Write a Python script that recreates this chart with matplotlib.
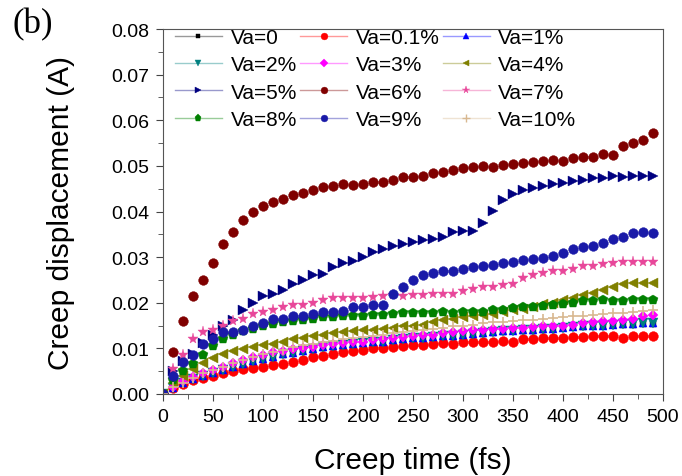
import matplotlib.pyplot as plt
from matplotlib.lines import Line2D
from matplotlib.ticker import MultipleLocator
from matplotlib.colors import to_rgb

plt.rcParams['font.family'] = ['Liberation Sans', 'DejaVu Sans']

# creep time (fs), one point every 10 fs
time = list(range(0, 500, 10))

# creep displacement (A) for each vacancy concentration
va_0 = [0, 0.0012, 0.0024, 0.0032, 0.0039, 0.0046, 0.0052, 0.0059, 0.0064, 0.0071,
        0.0076, 0.0081, 0.0086, 0.0089, 0.0094, 0.0097, 0.0101, 0.0104, 0.0107, 0.0109,
        0.0111, 0.0112, 0.0114, 0.0117, 0.0119, 0.0121, 0.0122, 0.0124, 0.0126, 0.0127,
        0.0129, 0.0131, 0.0132, 0.0134, 0.0136, 0.0137, 0.0139, 0.0139, 0.0141, 0.0142,
        0.0144, 0.0146, 0.0147, 0.0149, 0.0149, 0.0151, 0.0152, 0.0152, 0.0154, 0.0154]
va_01 = [0, 0.0012, 0.0022, 0.003, 0.0035, 0.004, 0.0045, 0.005, 0.0055, 0.0057,
         0.006, 0.0063, 0.0065, 0.007, 0.0075, 0.008, 0.0083, 0.0088, 0.0092, 0.0095,
         0.0097, 0.01, 0.01, 0.0102, 0.0105, 0.0107, 0.0108, 0.011, 0.0112, 0.011,
         0.0113, 0.0115, 0.0115, 0.0115, 0.0117, 0.0115, 0.012, 0.012, 0.0122, 0.0122,
         0.0122, 0.0125, 0.0125, 0.0127, 0.0127, 0.0128, 0.0123, 0.0127, 0.0127, 0.0127]
va_1 = [0, 0.0013, 0.0025, 0.0033, 0.004, 0.0047, 0.0053, 0.006, 0.0065, 0.0072,
        0.0077, 0.0082, 0.0087, 0.009, 0.0095, 0.0098, 0.0102, 0.0105, 0.0108, 0.011,
        0.0112, 0.0113, 0.0115, 0.0118, 0.012, 0.0122, 0.0123, 0.0125, 0.0127, 0.0128,
        0.013, 0.0132, 0.0133, 0.0135, 0.0137, 0.0138, 0.014, 0.014, 0.0142, 0.0143,
        0.0145, 0.0147, 0.0148, 0.015, 0.015, 0.0152, 0.0153, 0.0153, 0.0155, 0.0155]
va_2 = [0, 0.0013, 0.0025, 0.0033, 0.004, 0.0047, 0.0053, 0.006, 0.0065, 0.0072,
        0.0077, 0.0082, 0.0087, 0.009, 0.0095, 0.0098, 0.0102, 0.0105, 0.0108, 0.011,
        0.0112, 0.0113, 0.0115, 0.0118, 0.012, 0.0122, 0.0123, 0.0125, 0.0127, 0.0128,
        0.013, 0.0132, 0.0133, 0.0135, 0.0137, 0.0138, 0.014, 0.014, 0.0142, 0.0143,
        0.0145, 0.0147, 0.0148, 0.015, 0.015, 0.0152, 0.0153, 0.0153, 0.0155, 0.0155]
va_3 = [0, 0.0015, 0.0028, 0.0038, 0.0045, 0.0052, 0.006, 0.0068, 0.0075, 0.008,
        0.0085, 0.0092, 0.0095, 0.0098, 0.01, 0.0103, 0.0107, 0.011, 0.0112, 0.0113,
        0.0115, 0.0118, 0.012, 0.0122, 0.0125, 0.0127, 0.013, 0.013, 0.0133, 0.0135,
        0.0137, 0.014, 0.014, 0.0142, 0.0143, 0.0145, 0.0145, 0.0147, 0.0148, 0.0148,
        0.015, 0.0152, 0.0155, 0.0157, 0.016, 0.016, 0.0163, 0.0165, 0.017, 0.0173]
va_4 = [0, 0.0025, 0.004, 0.0055, 0.0068, 0.0078, 0.0088, 0.0095, 0.0098, 0.0103,
        0.0108, 0.011, 0.0115, 0.012, 0.0123, 0.0128, 0.013, 0.0133, 0.0135, 0.0138,
        0.014, 0.014, 0.0142, 0.0145, 0.0148, 0.015, 0.0152, 0.0157, 0.0163, 0.0165,
        0.0168, 0.017, 0.0173, 0.0175, 0.018, 0.0183, 0.0187, 0.019, 0.0197, 0.02,
        0.0205, 0.021, 0.0218, 0.0222, 0.0228, 0.0235, 0.024, 0.0243, 0.0243, 0.0243]
va_5 = [0, 0.005, 0.0072, 0.0088, 0.0112, 0.013, 0.0148, 0.0163, 0.0185, 0.02,
        0.0215, 0.022, 0.0228, 0.024, 0.025, 0.026, 0.0263, 0.0278, 0.0288, 0.0292,
        0.03, 0.0312, 0.0318, 0.0325, 0.0328, 0.0333, 0.0338, 0.034, 0.0345, 0.0354,
        0.0358, 0.0358, 0.0375, 0.0402, 0.0426, 0.0438, 0.0447, 0.0452, 0.0457, 0.046,
        0.0463, 0.0466, 0.047, 0.0473, 0.0473, 0.0478, 0.0475, 0.0477, 0.0477, 0.0477]
va_6 = [0, 0.0093, 0.0161, 0.0215, 0.0249, 0.0288, 0.0329, 0.0355, 0.0382, 0.04,
        0.0411, 0.042, 0.0428, 0.0436, 0.0441, 0.0447, 0.0453, 0.0455, 0.046, 0.0459,
        0.046, 0.0465, 0.0465, 0.0469, 0.0476, 0.0476, 0.0478, 0.0484, 0.0487, 0.049,
        0.0495, 0.0498, 0.05, 0.0498, 0.0503, 0.0505, 0.0507, 0.0509, 0.0511, 0.0514,
        0.0511, 0.0517, 0.052, 0.052, 0.0526, 0.0524, 0.0543, 0.055, 0.0556, 0.0573]
va_7 = [0, 0.0055, 0.0085, 0.012, 0.0135, 0.014, 0.015, 0.016, 0.0165, 0.0175,
        0.018, 0.0185, 0.019, 0.0195, 0.0195, 0.02, 0.0205, 0.021, 0.021, 0.021,
        0.021, 0.0213, 0.0215, 0.0217, 0.0215, 0.0218, 0.0218, 0.022, 0.022, 0.022,
        0.0225, 0.023, 0.0235, 0.0235, 0.0238, 0.024, 0.0255, 0.026, 0.0265, 0.027,
        0.027, 0.0275, 0.028, 0.028, 0.0285, 0.0288, 0.029, 0.029, 0.029, 0.029]
va_8 = [0, 0.003, 0.005, 0.0065, 0.0085, 0.0105, 0.012, 0.013, 0.0138, 0.0143,
        0.0148, 0.0153, 0.0158, 0.016, 0.0163, 0.0165, 0.0168, 0.0168, 0.017, 0.017,
        0.0172, 0.0173, 0.0173, 0.0175, 0.0178, 0.0178, 0.0177, 0.0178, 0.018, 0.0178,
        0.018, 0.018, 0.018, 0.0185, 0.0185, 0.0188, 0.019, 0.019, 0.0193, 0.0195,
        0.0197, 0.02, 0.0203, 0.0203, 0.0205, 0.0203, 0.0203, 0.0205, 0.0207, 0.0207]
va_9 = [0, 0.004, 0.007, 0.0085, 0.011, 0.012, 0.0135, 0.0135, 0.014, 0.015,
        0.0155, 0.0165, 0.0165, 0.017, 0.017, 0.0175, 0.018, 0.018, 0.0182, 0.019,
        0.019, 0.0195, 0.0195, 0.022, 0.0235, 0.025, 0.026, 0.0265, 0.027, 0.027,
        0.0275, 0.0278, 0.028, 0.0283, 0.0287, 0.029, 0.0293, 0.0295, 0.0298, 0.0302,
        0.0308, 0.0318, 0.0322, 0.0325, 0.033, 0.034, 0.0345, 0.0352, 0.0355, 0.0352]
va_10 = [0, 0.0015, 0.0025, 0.0035, 0.0045, 0.0052, 0.006, 0.0068, 0.0075, 0.008,
         0.0087, 0.0092, 0.0097, 0.0102, 0.0107, 0.011, 0.0113, 0.0117, 0.012, 0.0122,
         0.0125, 0.0127, 0.013, 0.0133, 0.0135, 0.0137, 0.014, 0.0143, 0.0145, 0.0148,
         0.015, 0.0152, 0.0155, 0.0157, 0.0158, 0.016, 0.0162, 0.0163, 0.0165, 0.0167,
         0.0168, 0.017, 0.0172, 0.0173, 0.0175, 0.0177, 0.0178, 0.018, 0.0182, 0.0183]

labels = ['Va=0', 'Va=0.1%', 'Va=1%', 'Va=2%', 'Va=3%', 'Va=4%',
          'Va=5%', 'Va=6%', 'Va=7%', 'Va=8%', 'Va=9%', 'Va=10%']
series = [va_0, va_01, va_1, va_2, va_3, va_4, va_5, va_6, va_7, va_8, va_9, va_10]
colors = ['#000000', '#ff0000', '#0000ff', '#008080', '#ff00ff', '#808000',
          '#000080', '#800000', '#e8479a', '#008000', '#1a1aa8', '#d8b890']
markers = ['s', 'o', '^', 'v', 'D', '<', '>', 'o', '*', 'p', 'o', '+']
sizes = [5, 7, 6, 6.5, 5.5, 7, 6.5, 7, 8, 7.5, 7, 7.5]


def lighten(c, f=0.6):
    r, g, b = to_rgb(c)
    return (r + (1 - r) * f, g + (1 - g) * f, b + (1 - b) * f)


fig = plt.figure(figsize=(6.82, 4.77), dpi=100)
ax = fig.add_axes([0.239, 0.172, 0.733, 0.765])

handles = []
for y, lab, c, m, s in zip(series, labels, colors, markers, sizes):
    ax.plot(time, y, linestyle='none', marker=m, ms=s, color=c,
            markeredgewidth=1.2 if m == '+' else 0.3)
    # legend entry: faint line with a solid symbol
    handles.append(Line2D([], [], color=lighten(c), lw=1.0, marker=m,
                          ms=s * 0.7, markeredgewidth=1.0 if m == '+' else 0.3,
                          markerfacecolor=c, markeredgecolor=c))

# legend fills column by column, so reorder to read row by row
order = [0, 3, 6, 9, 1, 4, 7, 10, 2, 5, 8, 11]
ax.legend([handles[i] for i in order], [labels[i] for i in order],
          ncol=3, loc='upper left', frameon=False,
          fontsize=15, handlelength=2.25, handletextpad=0.42,
          columnspacing=0.15, labelspacing=0.4, borderpad=0, borderaxespad=0,
          bbox_to_anchor=(175 / 682, 1 - 29 / 477), bbox_transform=fig.transFigure)

ax.set_xlim(0, 500)
ax.set_ylim(0, 0.08)
ax.xaxis.set_major_locator(MultipleLocator(50))
ax.xaxis.set_minor_locator(MultipleLocator(25))
ax.yaxis.set_major_locator(MultipleLocator(0.01))
ax.yaxis.set_minor_locator(MultipleLocator(0.005))
ax.yaxis.set_major_formatter(plt.FuncFormatter(lambda v, p: f'{v:.2f}'))
ax.tick_params(which='both', direction='out', labelsize=14, color='#444444')
ax.tick_params(which='major', length=5, pad=5)
ax.tick_params(which='minor', length=3.5)
for sp in ax.spines.values():
    sp.set_color('#555555')

ax.set_xlabel('Creep time (fs)', fontsize=21.5, labelpad=15)
ax.set_ylabel('Creep displacement (A)', fontsize=21.5, labelpad=26)
fig.text(12 / 682, 1 - 8 / 477, '(b)', fontsize=25, va='top',
         family='Liberation Serif')

fig.savefig('out.png', dpi=100)
